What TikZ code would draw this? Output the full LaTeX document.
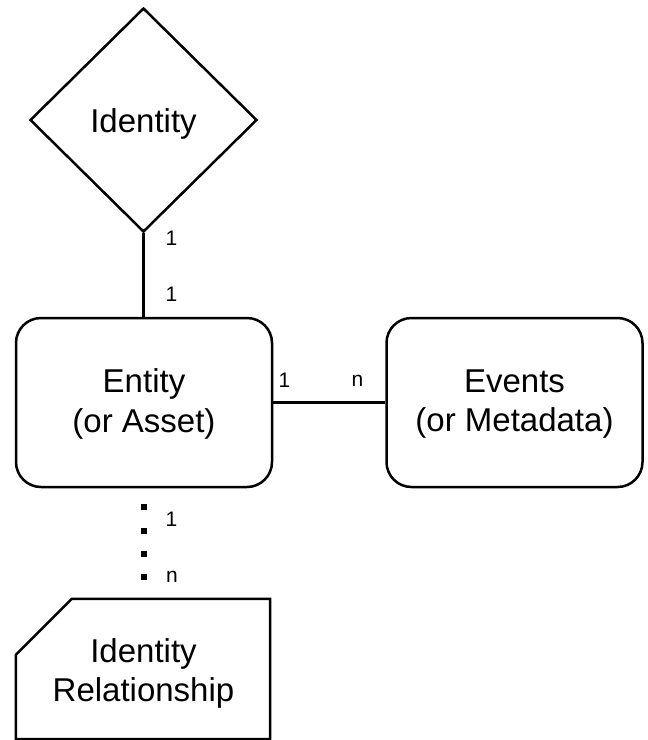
\documentclass[tikz,border=0pt]{standalone}
\usepackage{fontspec}
\setmainfont{Liberation Sans}
\usetikzlibrary{shapes.geometric}
\begin{document}
\begin{tikzpicture}[x=1pt,y=-1pt,
  every node/.style={font=\fontsize{33}{39.5}\selectfont, text=black},
  ent/.style={draw, line width=2.5pt, rounded corners=25pt, minimum width=256pt, minimum height=169pt, inner sep=0pt},
  rel/.style={draw, diamond, line width=2.5pt, minimum width=227pt, minimum height=224pt, inner sep=0pt},
  shapebox/.style={inner sep=0pt, minimum width=254pt, minimum height=140pt},
  txt/.style={align=center, inner sep=0pt},
  card/.style={font=\fontsize{21}{25}\selectfont, inner sep=0pt},
  conn/.style={line width=2.5pt},
  dots/.style={line width=6pt, dash pattern=on 6pt off 17.4pt, dash phase=7.5pt}
]
\useasboundingbox (0,0) rectangle (648,740);
% shapes
\node[rel] (identity) at (143.5,120) {};
\node[ent] (entity) at (144,402.5) {};
\node[ent] (events) at (514.5,402.5) {};
\node[shapebox] (idr) at (143,669) {};
\draw[conn] ([xshift=56pt]idr.north west) -- (idr.north east) -- (idr.south east)
  -- (idr.south west) -- ([yshift=-56pt]idr.north west) -- cycle;
% texts
\node[txt] (identitytext) at (143.5,123.7) {Identity};
\node[txt] (entitytext) at (144,404) {Entity\\(or Asset)};
\node[txt] (eventstext) at (514.5,404) {Events\\(or Metadata)};
\node[txt] (idrtext) at (143.5,673.7) {Identity\\Relationship};
% connectors
\draw[conn] (identity.south) -- (identity.south |- entity.north);
\draw[conn] (entity.east) -- (events.west);
\draw[dots] (entity.south) -- (entity.south |- idr.north);
% cardinalities
\node[card] (c1) at (171.5,238) {1};
\node[card] (c2) at (171.5,294.5) {1};
\node[card] (c3) at (284.5,380) {1};
\node[card] (c4) at (357.5,381) {n};
\node[card] (c5) at (171.5,519.5) {1};
\node[card] (c6) at (172,577) {n};
\end{tikzpicture}
\end{document}
